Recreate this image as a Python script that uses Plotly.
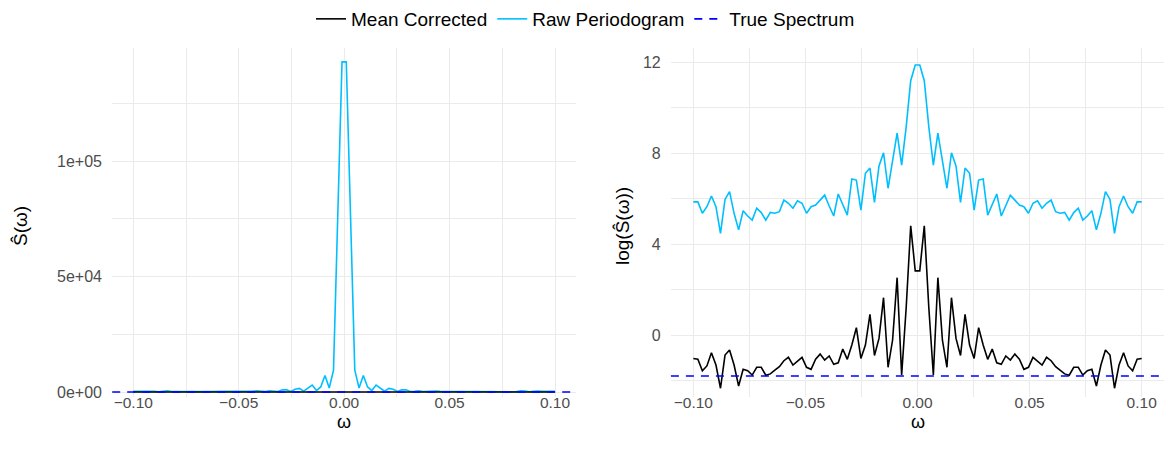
import numpy as np
import plotly.graph_objects as go

# Frequencies (100 points evenly spaced on [-0.1, 0.1])
omega = np.linspace(-0.1, 0.1, 100)

# log of the raw periodogram
raw_log = [
    5.85, 5.85, 5.35, 5.64, 6.11, 5.64, 4.47, 5.96, 6.30, 5.35,
    4.62, 5.46, 5.23, 5.05, 5.57, 5.38, 5.05, 5.39, 5.35, 5.42,
    5.93, 5.79, 5.57, 5.90, 5.79, 5.35, 5.64, 5.71, 5.93, 6.15,
    5.67, 5.23, 6.20, 5.76, 5.27, 6.86, 6.81, 5.49, 7.11, 7.34,
    5.83, 7.43, 8.01, 6.45, 7.69, 8.87, 7.47, 9.15, 11.18, 11.87,
    11.87, 11.18, 9.15, 7.47, 8.87, 7.69, 6.45, 8.01, 7.43, 5.83,
    7.34, 7.11, 5.49, 6.81, 6.86, 5.27, 5.76, 6.20, 5.23, 5.67,
    6.15, 5.93, 5.71, 5.64, 5.35, 5.79, 5.90, 5.57, 5.79, 5.93,
    5.42, 5.35, 5.39, 5.05, 5.38, 5.57, 5.05, 5.23, 5.46, 4.62,
    5.35, 6.30, 5.96, 4.47, 5.64, 6.11, 5.64, 5.35, 5.85, 5.85,
]

# log of the mean-corrected periodogram
mc_log = [
    -1.03, -1.06, -1.57, -1.36, -0.78, -1.32, -2.34, -0.88, -0.66, -1.32,
    -2.24, -1.51, -1.57, -1.76, -1.42, -1.42, -1.77, -1.71, -1.54, -1.39,
    -1.13, -0.98, -1.32, -1.17, -0.98, -1.42, -1.51, -1.06, -0.84, -1.10,
    -0.92, -1.29, -1.22, -0.62, -1.07, -0.44, 0.32, -1.03, -0.44, 0.91,
    -0.90, -0.15, 1.64, -1.42, -0.22, 2.52, -1.76, 1.20, 4.80, 2.82,
    2.82, 4.80, 1.20, -1.76, 2.52, -0.22, -1.42, 1.64, -0.15, -0.90,
    0.91, -0.44, -1.03, 0.32, -0.44, -1.07, -0.62, -1.22, -1.29, -0.92,
    -1.10, -0.84, -1.06, -1.51, -1.42, -0.98, -1.17, -1.32, -0.98, -1.13,
    -1.39, -1.54, -1.71, -1.77, -1.42, -1.42, -1.76, -1.57, -1.51, -2.24,
    -1.32, -0.66, -0.88, -2.34, -1.32, -0.78, -1.36, -1.57, -1.06, -1.03,
]

# log of the true (white noise) spectrum
true_log = -1.80

x_ticks = [-0.10, -0.05, 0.00, 0.05, 0.10]
x_ticktext = ["\u22120.10", "\u22120.05", "0.00", "0.05", "0.10"]
x_minor = [-0.075, -0.025, 0.025, 0.075]
left_y_ticks = [0, 50000, 100000]
left_y_ticktext = ["0e+00", "5e+04", "1e+05"]
left_y_minor = [25000, 75000, 125000]
right_y_ticks = [0, 4, 8, 12]
right_y_ticktext = ["0", "4", "8", "12"]
right_y_minor = [-2, 2, 6, 10]

raw_S = np.exp(np.array(raw_log))
mc_S = np.exp(np.array(mc_log))
true_S = float(np.exp(true_log))

FONT = "Liberation Sans, Arial, Helvetica, sans-serif"
GRID = "#EBEBEB"
RAW_COLOR = "#00BFFF"
MC_COLOR = "#000000"
TRUE_COLOR = "#0000FF"
DASH = "8px,7px"
LW = 1.6

W, H = 1171, 457
panel_top, panel_bottom = 48, 397
yd = [(H - panel_bottom) / H, (H - panel_top) / H]
left_px = (112.2, 576.1)
right_px = (670.9, 1164.1)

# pixel positions of reference ticks -> axis ranges
l_zero, l_per = 392.0, 231.0 / 100000.0
r_zero, r_per = 335.0, 22.75
left_range = [-(panel_bottom - l_zero) / l_per, (l_zero - panel_top) / l_per]
right_range = [-(panel_bottom - r_zero) / r_per, (r_zero - panel_top) / r_per]

fig = go.Figure()

fig.add_trace(go.Scatter(x=omega, y=raw_S, mode="lines", name="Raw Periodogram",
                         line=dict(color=RAW_COLOR, width=LW), xaxis="x", yaxis="y",
                         legendrank=2))
fig.add_trace(go.Scatter(x=omega, y=mc_S, mode="lines", name="Mean Corrected",
                         line=dict(color=MC_COLOR, width=LW), xaxis="x", yaxis="y",
                         legendrank=1))
fig.add_trace(go.Scatter(x=omega, y=raw_log, mode="lines", name="Raw Periodogram",
                         line=dict(color=RAW_COLOR, width=LW), xaxis="x2", yaxis="y2",
                         showlegend=False))
fig.add_trace(go.Scatter(x=omega, y=mc_log, mode="lines", name="Mean Corrected",
                         line=dict(color=MC_COLOR, width=LW), xaxis="x2", yaxis="y2",
                         showlegend=False))
fig.add_trace(go.Scatter(x=[None], y=[None], mode="lines", name="True Spectrum",
                         line=dict(color=TRUE_COLOR, width=LW, dash=DASH),
                         xaxis="x", yaxis="y", legendrank=3))

fig.add_shape(type="line", xref="x domain", yref="y", x0=0, x1=1, y0=true_S, y1=true_S,
              line=dict(color=TRUE_COLOR, width=LW, dash=DASH), layer="above")
fig.add_shape(type="line", xref="x2 domain", yref="y2", x0=0, x1=1, y0=true_log, y1=true_log,
              line=dict(color=TRUE_COLOR, width=LW, dash=DASH), layer="above")

tickfont = dict(family=FONT, size=16, color="#4D4D4D")
xtickfont = dict(family=FONT, size=15.5, color="#4D4D4D")

def xaxis(domain_px, anchor):
    return dict(domain=[domain_px[0] / W, domain_px[1] / W], anchor=anchor,
                range=[-0.11, 0.11], tickvals=x_ticks, ticktext=x_ticktext,
                showgrid=True, gridcolor=GRID, gridwidth=1.4, zeroline=False,
                showline=False, ticks="", tickfont=xtickfont, automargin=False,
                ticklabelstandoff=-6,
                minor=dict(tickvals=x_minor, showgrid=True, gridcolor=GRID, gridwidth=0.7))

def yaxis(anchor, rng, tv, tt, minor_tv):
    return dict(domain=yd, anchor=anchor, range=rng, tickvals=tv, ticktext=tt,
                showgrid=True, gridcolor=GRID, gridwidth=1.4, zeroline=False,
                showline=False, ticks="outside", ticklen=6, tickcolor="rgba(0,0,0,0)",
                tickfont=tickfont, automargin=False,
                minor=dict(tickvals=minor_tv, showgrid=True, gridcolor=GRID, gridwidth=0.7))

fig.update_layout(
    width=W, height=H, autosize=False,
    margin=dict(l=0, r=0, t=0, b=0, autoexpand=False),
    paper_bgcolor="white", plot_bgcolor="white",
    font=dict(family=FONT, color="black"),
    showlegend=True,
    legend=dict(orientation="h", x=0.5, xanchor="center", y=1.0, yanchor="top",
                font=dict(family=FONT, size=19, color="black"), itemwidth=30,
                bgcolor="rgba(0,0,0,0)"),
    xaxis=xaxis(left_px, "y"),
    xaxis2=xaxis(right_px, "y2"),
    yaxis=yaxis("x", left_range, left_y_ticks, left_y_ticktext, left_y_minor),
    yaxis2=yaxis("x2", right_range, right_y_ticks, right_y_ticktext, right_y_minor),
)

title_font = dict(family=FONT, size=18, color="black")
ytitle_font = dict(family=FONT, size=19, color="black")
annotations = [
    dict(text="\u03c9", x=(left_px[0] + left_px[1]) / 2 / W, y=(H - 422) / H,
         xref="paper", yref="paper", showarrow=False, font=title_font,
         xanchor="center", yanchor="middle"),
    dict(text="\u03c9", x=(right_px[0] + right_px[1]) / 2 / W, y=(H - 422) / H,
         xref="paper", yref="paper", showarrow=False, font=title_font,
         xanchor="center", yanchor="middle"),
    dict(text="\u015c(\u03c9)", x=20 / W, y=(H - 226) / H, textangle=-90,
         xref="paper", yref="paper", showarrow=False, font=ytitle_font,
         xanchor="center", yanchor="middle"),
    dict(text="log(\u015c(\u03c9))", x=622 / W, y=(H - 226) / H, textangle=-90,
         xref="paper", yref="paper", showarrow=False, font=ytitle_font,
         xanchor="center", yanchor="middle"),
]
fig.update_layout(annotations=annotations)

fig.write_html("out.html")
